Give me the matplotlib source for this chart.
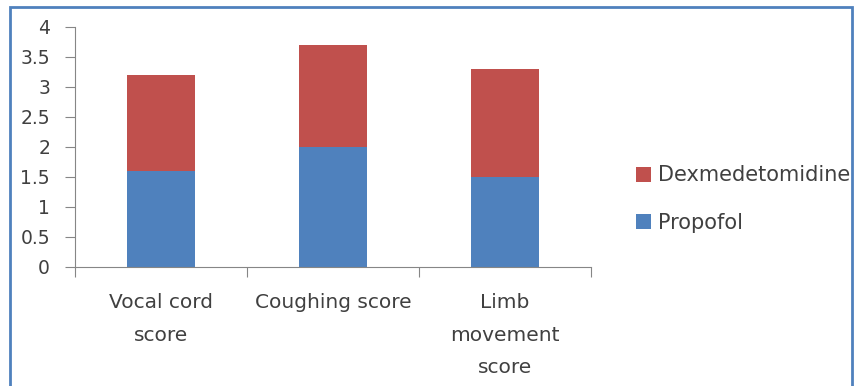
import matplotlib.pyplot as plt
from matplotlib.patches import Rectangle

# Puntuaciones medias por grupo
categorias = ["Vocal cord\nscore", "Coughing score", "Limb\nmovement\nscore"]
propofol = [1.6, 2.0, 1.5]
dexmedetomidina = [1.6, 1.7, 1.8]
ticks_y = [0, 0.5, 1, 1.5, 2, 2.5, 3, 3.5, 4]

plt.rcParams['font.family'] = ['DejaVu Sans']

fig = plt.figure(figsize=(8.55, 3.86), dpi=100)
ax = fig.add_axes([75 / 855, 119 / 386, 516 / 855, 240 / 386])

x = range(len(categorias))
ax.bar(x, propofol, width=0.4, color='#4F81BD', label='Propofol')
ax.bar(x, dexmedetomidina, width=0.4, bottom=propofol, color='#C0504D',
       label='Dexmedetomidine')

ax.set_xlim(-0.5, 2.5)
ax.set_ylim(0, 4)
ax.set_yticks(ticks_y)
ax.set_yticklabels([f"{v:g}" for v in ticks_y], fontsize=13.5, color='#404040')

# ticks del eje x en los limites de cada categoria
ax.set_xticks([-0.5, 0.5, 1.5, 2.5])
ax.set_xticklabels([])
ax.set_xticks(list(x), minor=True)
ax.set_xticklabels(categorias, minor=True, fontsize=14.5, color='#404040',
                   linespacing=1.9, va='top')
ax.tick_params(axis='x', which='minor', length=0, pad=19)
ax.tick_params(axis='x', which='major', length=7, color='#868686', direction='out')
ax.tick_params(axis='y', length=7, color='#868686', pad=11)

for lado in ['top', 'right']:
    ax.spines[lado].set_visible(False)
for lado in ['left', 'bottom']:
    ax.spines[lado].set_color('#868686')

handles, labels = ax.get_legend_handles_labels()
fig.legend(handles[::-1], labels[::-1], loc='center left',
           bbox_to_anchor=(617 / 855, 1 - 199 / 386), frameon=False,
           fontsize=15, handlelength=0.75, handleheight=0.75,
           handletextpad=0.3, labelspacing=1.3, labelcolor='#404040')

# marco azul alrededor del grafico
fig.patches.append(Rectangle((10 / 855, -0.05), 842 / 855, 1 - 7 / 386 + 0.05,
                             transform=fig.transFigure, fill=False,
                             edgecolor='#4F81BD', linewidth=2))

plt.savefig("out.png", dpi=100)
